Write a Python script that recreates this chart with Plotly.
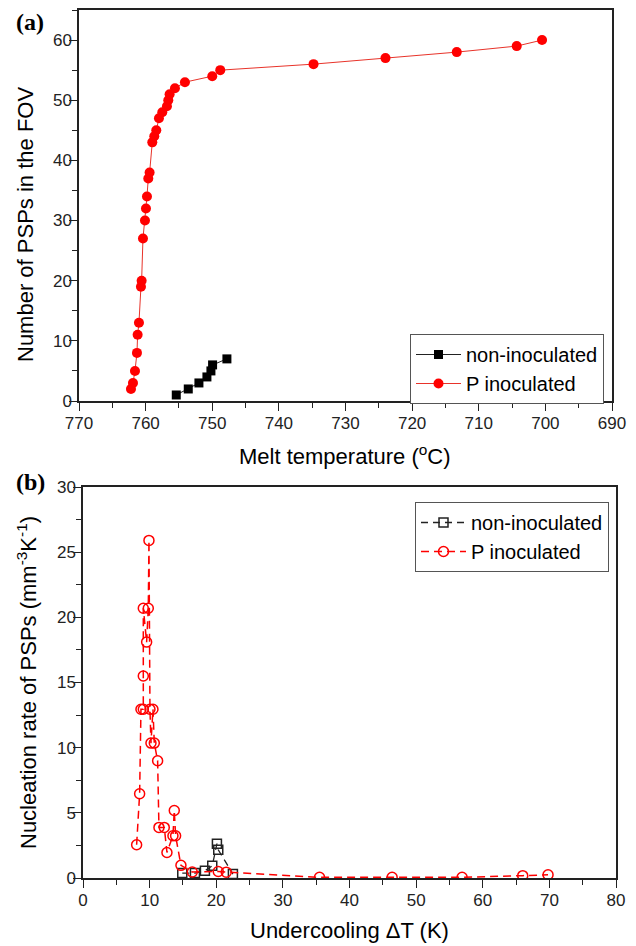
import plotly.graph_objects as go

# ---- Panel (a) data ----
temp_non = [755.4, 753.6, 752.0, 750.8, 750.2, 749.95, 747.8]
count_non = [1, 2, 3, 4, 5, 6, 7]
temp_p = [762.2, 761.9, 761.6, 761.3, 761.2, 761.0, 760.7, 760.6, 760.4, 760.1,
          759.95, 759.8, 759.6, 759.4, 759.0, 758.7, 758.4, 758.0, 757.5, 756.8,
          756.6, 756.4, 755.6, 754.1, 750.0, 748.8, 734.8, 724.0, 713.3, 704.3,
          700.5]
count_p = [2, 3, 5, 8, 11, 13, 19, 20, 27, 30,
           32, 34, 37, 38, 43, 44, 45, 47, 48, 49,
           50, 51, 52, 53, 54, 55, 56, 57, 58, 59,
           60]

# ---- Panel (b) data ----
dT_non = [14.9, 16.8, 18.3, 19.4, 20.1, 20.3, 22.5]
rate_non = [0.38, 0.38, 0.56, 0.94, 2.63, 2.17, 0.3]
dT_p = [8.05, 8.5, 8.7, 9.05, 9.05, 9.05, 9.55, 9.8, 9.9, 10.05,
        10.2, 10.5, 10.7, 11.2, 11.4, 12.2, 12.6, 13.5, 13.7, 13.9,
        14.7, 16.4, 20.3, 21.5, 35.5, 46.4, 56.9, 66.0, 69.8]
rate_p = [2.55, 6.46, 12.95, 12.95, 15.5, 20.7, 18.1, 20.7, 25.9, 12.95,
          10.35, 12.95, 10.35, 9.0, 3.88, 3.88, 1.96, 3.24, 5.18, 3.24,
          0.97, 0.46, 0.5, 0.45, 0.05, 0.05, 0.05, 0.18, 0.25]

W, H = 636, 946
FONT = "Liberation Sans"
AX = "#222222"

def px_x(p):
    return p / W

def px_y(p):
    return 1 - p / H

fig = go.Figure()

# Panel (a)
fig.add_trace(go.Scatter(x=temp_non, y=count_non, mode="lines+markers", name="non-inoculated",
                         line=dict(color="#222222", width=1),
                         marker=dict(symbol="square", size=9, color="black"),
                         xaxis="x", yaxis="y", legend="legend"))
fig.add_trace(go.Scatter(x=temp_p, y=count_p, mode="lines+markers", name="P inoculated",
                         line=dict(color="#e8332a", width=1),
                         marker=dict(symbol="circle", size=10, color="#ff0000"),
                         xaxis="x", yaxis="y", legend="legend"))

# Panel (b)
fig.add_trace(go.Scatter(x=dT_non, y=rate_non, mode="lines+markers", name="non-inoculated",
                         line=dict(color="#222222", width=1.3, dash="7px,5px"),
                         marker=dict(symbol="square-open", size=9, color="#222222",
                                     line=dict(width=1.5)),
                         xaxis="x2", yaxis="y2", legend="legend2"))
fig.add_trace(go.Scatter(x=dT_p, y=rate_p, mode="lines+markers", name="P inoculated",
                         line=dict(color="#ff0000", width=1.5, dash="8px,5px"),
                         marker=dict(symbol="circle-open", size=10, color="#ff0000",
                                     line=dict(width=1.5)),
                         xaxis="x2", yaxis="y2", legend="legend2"))

dom_x1 = [px_x(79), px_x(612)]
dom_y1 = [px_y(401), px_y(10)]
dom_x2 = [px_x(83), px_x(616)]
dom_y2 = [px_y(878), px_y(487)]

tickfont = dict(family=FONT, size=17, color=AX)
common = dict(showgrid=False, zeroline=False, showline=True, linecolor=AX, linewidth=1.5,
              ticks="outside", ticklen=8, tickwidth=1.2, tickcolor=AX, tickfont=tickfont,
              automargin=False)
xcommon = dict(ticklabelstandoff=-2, **common)
ycommon = dict(ticklabelstandoff=-6, **common)

fig.update_layout(
    width=W, height=H,
    margin=dict(l=0, r=0, t=0, b=0),
    paper_bgcolor="white", plot_bgcolor="white",
    xaxis=dict(domain=dom_x1, range=[770, 690], dtick=10, anchor="y", mirror=True,
               minor=dict(dtick=5, ticks="outside", ticklen=5, tickwidth=1.2, tickcolor=AX),
               **xcommon),
    yaxis=dict(domain=dom_y1, range=[0, 65], dtick=10, anchor="x", mirror=True,
               minor=dict(dtick=5, ticks="outside", ticklen=5, tickwidth=1.2, tickcolor=AX),
               **ycommon),
    yaxis3=dict(domain=dom_y1, range=[0, 65], dtick=10, overlaying="y", side="right",
                anchor="x", showgrid=False, zeroline=False, showline=False,
                ticks="inside", ticklen=8, tickwidth=1.2, tickcolor=AX, showticklabels=False,
                minor=dict(dtick=5, ticks="inside", ticklen=5, tickwidth=1.2, tickcolor=AX)),
    xaxis2=dict(domain=dom_x2, range=[0, 80], dtick=10, anchor="y2", mirror=True,
                minor=dict(dtick=5, ticks="outside", ticklen=5, tickwidth=1.2, tickcolor=AX),
                **xcommon),
    yaxis2=dict(domain=dom_y2, range=[0, 30], dtick=5, anchor="x2", mirror=True,
                minor=dict(dtick=2.5, ticks="outside", ticklen=5, tickwidth=1.2, tickcolor=AX),
                **ycommon),
    yaxis4=dict(domain=dom_y2, range=[0, 30], dtick=5, overlaying="y2", side="right",
                anchor="x2", showgrid=False, zeroline=False, showline=False,
                ticks="inside", ticklen=8, tickwidth=1.2, tickcolor=AX, showticklabels=False,
                minor=dict(dtick=2.5, ticks="inside", ticklen=5, tickwidth=1.2, tickcolor=AX)),
    legend=dict(x=px_x(604), y=px_y(334), xanchor="right", yanchor="top",
                bordercolor="#555555", borderwidth=1, bgcolor="white",
                font=dict(family=FONT, size=20, color="black"),
                itemwidth=45, tracegroupgap=0),
    legend2=dict(x=px_x(609), y=px_y(502), xanchor="right", yanchor="top",
                 bordercolor="#555555", borderwidth=1, bgcolor="white",
                 font=dict(family=FONT, size=20, color="black"),
                 itemwidth=45, tracegroupgap=0),
    showlegend=True,
)

annots = [
    dict(text="<b>(a)</b>", x=px_x(30), y=px_y(22), font=dict(family="Liberation Serif", size=24, color="black")),
    dict(text="<b>(b)</b>", x=px_x(30), y=px_y(482), font=dict(family="Liberation Serif", size=24, color="black")),
    dict(text="Melt temperature (<sup>o</sup>C)", x=px_x(345), y=px_y(455),
         font=dict(family=FONT, size=22, color="black")),
    dict(text="Undercooling \u0394T (K)", x=px_x(349), y=px_y(930),
         font=dict(family=FONT, size=22, color="black")),
    dict(text="Number of PSPs in the FOV", x=px_x(25), y=px_y(225), textangle=-90,
         font=dict(family=FONT, size=22, color="black")),
    dict(text="Nucleation rate of PSPs (mm<sup>-3</sup>K<sup>-1</sup>)", x=px_x(27), y=px_y(683),
         textangle=-90, font=dict(family=FONT, size=22, color="black")),
]
for a in annots:
    a.update(xref="paper", yref="paper", showarrow=False, xanchor="center", yanchor="middle")
fig.update_layout(annotations=annots)

fig.write_html("out.html")
